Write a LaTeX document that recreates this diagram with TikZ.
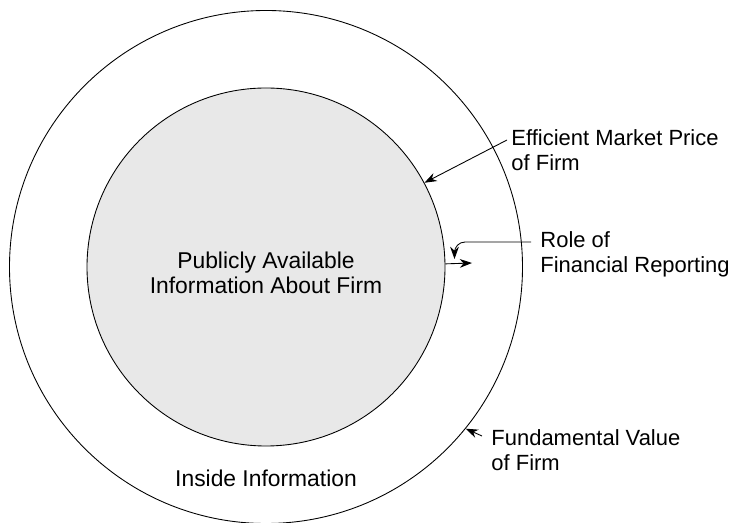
\documentclass[tikz,border=0pt]{standalone}
\usepackage{fontspec}
\setmainfont{Liberation Sans}
\usepackage{tikz}
\usetikzlibrary{arrows.meta,calc,positioning}

\begin{document}
\begin{tikzpicture}[>={Stealth[length=7pt,width=5pt]}, line width=0.5pt,
txt/.style={align=center,inner sep=0pt,font=\fontsize{13}{14.2}\selectfont},
lbl/.style={txt,align=left,anchor=west,font=\fontsize{12.5}{14.2}\selectfont}]
\useasboundingbox (-5.32,-5.12) rectangle (9.38,5.34);
\node (fund) at (0,0) [circle,draw,minimum size=10.26cm] {};
\node (pub) at (0,0) [circle,draw,fill=gray!18,minimum size=7.16cm] {};
\node (pubtxt) at (0,-0.11) [txt] {Publicly Available\\Information About Firm};
\node (inside) at (0,-4.22) [txt] {Inside Information};

\node (emp) at (4.9,2.34) [lbl] {Efficient Market Price\\of Firm};
\node (rfr) at (5.48,0.25) [lbl] {Role of\\Financial Reporting};
\node (fv) at (4.5,-3.67) [lbl] {Fundamental Value\\of Firm};

\coordinate (rfrin) at (5.3,0.5);
\coordinate (rfrout) at (4.12,0.08);

\draw[->] ($(emp.west)+(-0.08,0.2)$) -- (pub.28.3);
\draw[->,rounded corners=6pt] (rfrin) -| (3.77,0.16);
\draw[->] (pub.1.3) -- (rfrout);
\draw[->] ($(fv.west)+(-0.18,0.29)$) -- (fund.-39.1);

\end{tikzpicture}
\end{document}
